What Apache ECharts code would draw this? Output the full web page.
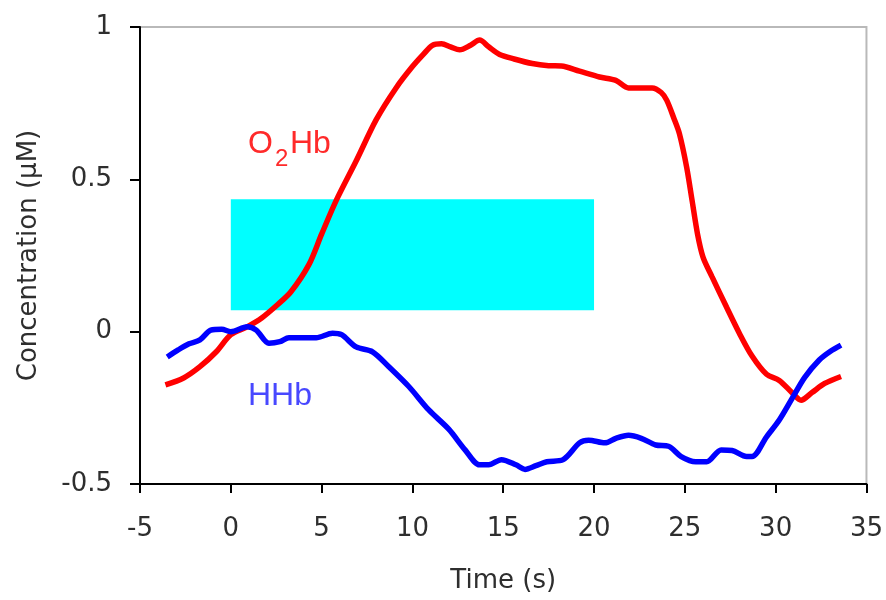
<!DOCTYPE html>
<html>
<head>
<meta charset="utf-8">
<script src="https://cdn.jsdelivr.net/npm/echarts/dist/echarts.min.js"></script>
<style>
html, body { margin: 0; padding: 0; background: #fff; }
#chart { width: 886px; height: 600px; }
</style>
</head>
<body>
<div id="chart"></div>
<script>
// O2Hb (red)
var o2hbTime = [-3.6, -2.6, -1.7, -0.8, 0, 0.9, 1.7, 2.6, 3.3, 4.3, 5.0, 5.8, 6.9, 8.0, 9.1, 10.0, 10.6, 11.1, 11.6, 12.1, 12.6, 13.2, 13.7, 14.2, 14.8, 15.6, 16.6, 17.5, 18.2, 19.2, 20.3, 21.2, 21.9, 22.6, 23.2, 23.7, 24.0, 24.4, 24.7, 25.1, 25.4, 25.7, 26.0, 26.5, 27.3, 28.0, 28.7, 29.5, 30.2, 30.9, 31.4, 32.0, 32.7, 33.6];
var o2hbValue = [-0.175, -0.152, -0.115, -0.066, -0.01, 0.016, 0.045, 0.09, 0.13, 0.22, 0.32, 0.43, 0.56, 0.695, 0.8, 0.87, 0.91, 0.94, 0.945, 0.935, 0.925, 0.94, 0.957, 0.935, 0.91, 0.895, 0.88, 0.873, 0.872, 0.855, 0.836, 0.825, 0.8, 0.8, 0.8, 0.785, 0.76, 0.7, 0.65, 0.54, 0.43, 0.32, 0.245, 0.18, 0.08, -0.005, -0.08, -0.14, -0.16, -0.2, -0.225, -0.2, -0.17, -0.147];

// HHb (blue)
var hhbTime = [-3.5, -2.9, -2.3, -1.7, -1.1, -0.5, 0, 0.9, 1.4, 2.1, 2.7, 3.2, 4.0, 4.7, 5.6, 6.1, 6.9, 7.8, 8.7, 9.8, 10.9, 12.0, 12.9, 13.7, 14.2, 14.9, 15.7, 16.2, 16.8, 17.4, 18.3, 19.2, 19.7, 20.6, 21.2, 21.9, 22.6, 23.4, 24.1, 24.8, 25.6, 26.2, 27.0, 27.6, 28.4, 28.7, 29.5, 30.2, 30.9, 31.6, 32.4, 33.0, 33.6];
var hhbValue = [-0.083, -0.06, -0.04, -0.027, 0.005, 0.008, 0, 0.016, 0.005, -0.038, -0.033, -0.02, -0.02, -0.02, -0.005, -0.01, -0.05, -0.066, -0.115, -0.18, -0.257, -0.32, -0.388, -0.437, -0.437, -0.42, -0.437, -0.452, -0.44, -0.427, -0.42, -0.365, -0.356, -0.365, -0.35, -0.34, -0.35, -0.372, -0.376, -0.41, -0.427, -0.427, -0.388, -0.39, -0.41, -0.41, -0.345, -0.29, -0.22, -0.15, -0.093, -0.065, -0.044];

// stimulation block
var stimTime = [0, 20];
var stimLevel = [0.07, 0.435];

var xTicks = [-5, 35, 5];
var yTicks = [-0.5, 1, 0.5];

function pairs(t, v) {
	var out = [];
	for (var i = 0; i < t.length; i++) {
		out.push([t[i], v[i]]);
	}
	return out;
}

var font = 'DejaVu Sans';
var textColor = '#2e2e2e';
var labelFont = '"Liberation Sans"';

var myChart = echarts.init(document.getElementById('chart'));
var option = {
	animation: false,
	grid: {
		left: 140, right: 18, top: 27, bottom: 116,
		show: true,
		borderColor: '#b9b9b9',
		borderWidth: 2
	},
	xAxis: {
		type: 'value',
		min: xTicks[0], max: xTicks[1], interval: xTicks[2],
		name: 'Time (s)',
		nameLocation: 'middle',
		nameGap: 84,
		nameTextStyle: { fontFamily: font, fontSize: 26, color: textColor },
		axisLine: { onZero: false, lineStyle: { color: '#000', width: 2 } },
		axisTick: { length: 9, lineStyle: { color: '#000', width: 2 } },
		axisLabel: { margin: 32, fontFamily: font, fontSize: 26, color: textColor },
		splitLine: { show: false }
	},
	yAxis: {
		type: 'value',
		min: yTicks[0], max: yTicks[1], interval: yTicks[2],
		name: 'Concentration (µM)',
		nameLocation: 'middle',
		nameGap: 98,
		nameTextStyle: { fontFamily: font, fontSize: 26, color: textColor },
		axisLine: { show: true, onZero: false, lineStyle: { color: '#000', width: 2 } },
		axisTick: { show: true, length: 10, lineStyle: { color: '#000', width: 2 } },
		axisLabel: { margin: 28, fontFamily: font, fontSize: 26, color: textColor },
		splitLine: { show: false }
	},
	graphic: [
		// O2Hb label, subscript drawn as its own text
		{ type: 'text', left: 248, top: 128, style: { text: 'O', fill: '#ff2a2a', font: '32px ' + labelFont } },
		{ type: 'text', left: 275, top: 147, style: { text: '2', fill: '#ff2a2a', font: '24px ' + labelFont } },
		{ type: 'text', left: 290, top: 128, style: { text: 'Hb', fill: '#ff2a2a', font: '32px ' + labelFont } },
		{ type: 'text', left: 248, top: 380, style: { text: 'HHb', fill: '#4848ff', font: '32px ' + labelFont } }
	],
	series: [
		{
			type: 'line',
			data: [],
			z: 1,
			markArea: {
				silent: true,
				itemStyle: { color: '#00ffff', opacity: 1 },
				data: [[
					{ xAxis: stimTime[0], yAxis: stimLevel[0] },
					{ xAxis: stimTime[1], yAxis: stimLevel[1] }
				]]
			}
		},
		{
			name: 'O2Hb',
			type: 'line',
			z: 3,
			data: pairs(o2hbTime, o2hbValue),
			showSymbol: false,
			smooth: 0.3,
			lineStyle: { color: '#ff0000', width: 5.5 }
		},
		{
			name: 'HHb',
			type: 'line',
			z: 4,
			data: pairs(hhbTime, hhbValue),
			showSymbol: false,
			smooth: 0.3,
			lineStyle: { color: '#0000ff', width: 5.5 }
		}
	]
};
myChart.setOption(option);
</script>
</body>
</html>
